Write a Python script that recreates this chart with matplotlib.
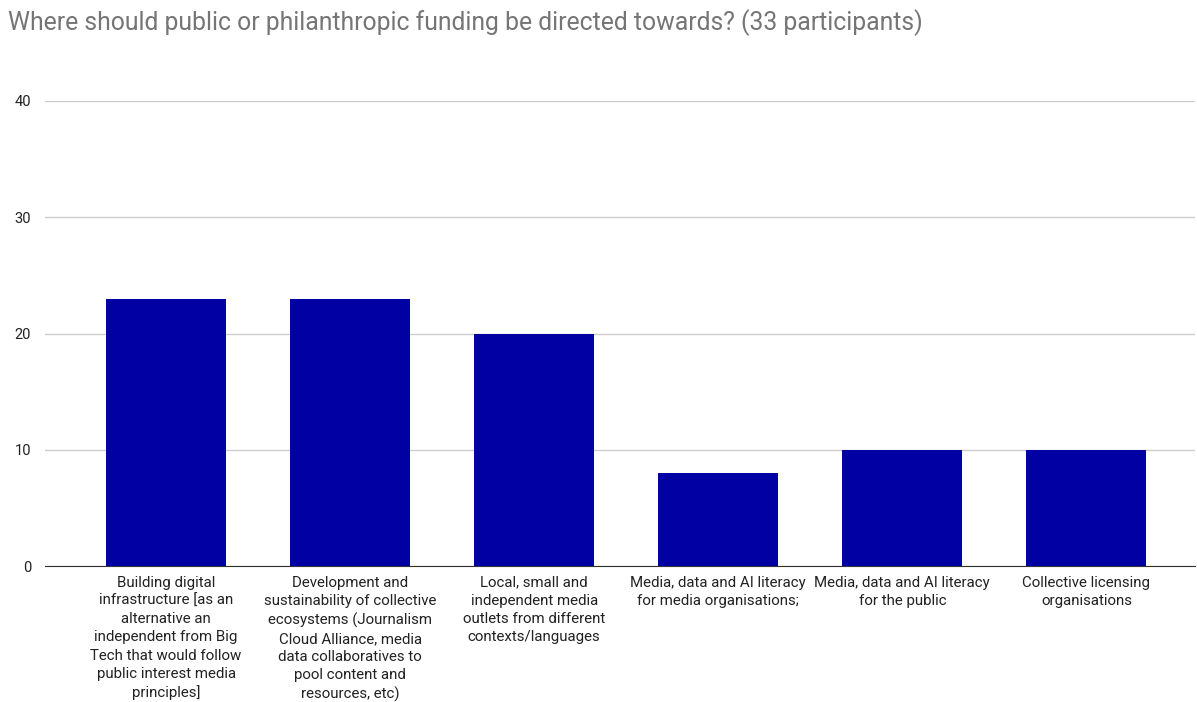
import matplotlib
matplotlib.use("Agg")
import matplotlib.pyplot as plt

categories = [
    "Building digital\ninfrastructure [as an\nalternative an\nindependent from Big\nTech that would follow\npublic interest media\nprinciples]",
    "Development and\nsustainability of collective\necosystems (Journalism\nCloud Alliance, media\ndata collaboratives to\npool content and\nresources, etc)",
    "Local, small and\nindependent media\noutlets from different\ncontexts/languages",
    "Media, data and AI literacy\nfor media organisations;",
    "Media, data and AI literacy\nfor the public",
    "Collective licensing\norganisations",
]
values = [23, 23, 20, 8, 10, 10]
yticks = [0, 10, 20, 30, 40]

plt.rcParams['font.family'] = ['Roboto', 'DejaVu Sans']

fig = plt.figure(figsize=(11.97, 7.02), dpi=100)
ax = fig.add_axes([45 / 1197, 1 - 566 / 702, 1150 / 1197, 465 / 702])

x = list(range(len(values)))
ax.bar(x, values, width=0.652, color="#0000a3", zorder=3)

ax.set_ylim(0, 40)
ax.set_xlim(-0.658, 5.59)
ax.set_yticks(yticks)
ax.set_yticklabels([str(t) for t in yticks], fontsize=10.5, color="#222222")
ax.grid(axis="y", color="#cccccc", linewidth=1, zorder=0)
ax.tick_params(axis="y", length=0, pad=10)
ax.tick_params(axis="x", length=0, pad=7)
ax.set_xticks(x)
ax.set_xticklabels(categories, fontsize=10.8, color="#222222", linespacing=1.38, va="top")

for s in ["top", "right", "left"]:
    ax.spines[s].set_visible(False)
ax.spines["bottom"].set_color("#333333")
ax.spines["bottom"].set_zorder(4)

fig.text(8 / 1197, 1 - 23 / 702, "Where should public or philanthropic funding be directed towards? (33 participants)",
         fontsize=17.85, color="#757575", va="center", ha="left")

fig.savefig("out.png", dpi=100)
